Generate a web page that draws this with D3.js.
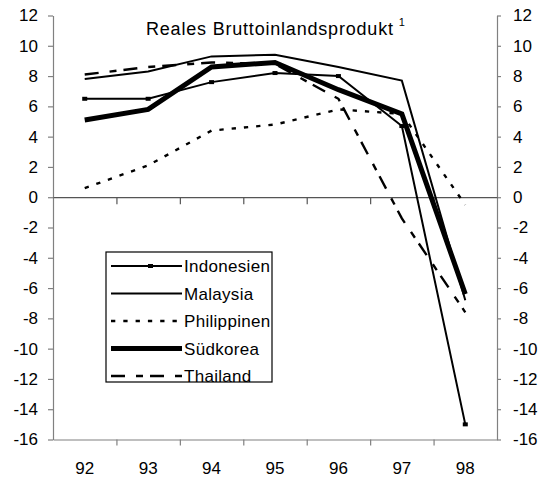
<!DOCTYPE html>
<html>
<head>
<meta charset="utf-8">
<script src="https://cdn.jsdelivr.net/npm/d3@7"></script>
<style>
  body { margin: 0; background: #fff; }
  text { font-family: "Liberation Sans", Arial, sans-serif; fill: #000; }
</style>
</head>
<body>
<svg id="chart"></svg>
<script>
var years = ["92", "93", "94", "95", "96", "97", "98"];
var yTicks = [-16, -14, -12, -10, -8, -6, -4, -2, 0, 2, 4, 6, 8, 10, 12];

var indonesien = [6.5, 6.5, 7.6, 8.2, 8.0, 4.7, -15.0];
var malaysia = [7.8, 8.3, 9.3, 9.4, 8.6, 7.7, -6.8];
var philippinen = [0.6, 2.1, 4.4, 4.8, 5.8, 5.5, -0.5];
var suedkorea = [5.1, 5.8, 8.6, 8.9, 7.1, 5.5, -6.4];
var thailand = [8.1, 8.6, 8.9, 8.8, 6.5, -1.4, -7.6];

var seriesNames = ["Indonesien", "Malaysia", "Philippinen", "Südkorea", "Thailand"];
var seriesValues = [indonesien, malaysia, philippinen, suedkorea, thailand];

// line styles per series
var styles = [
    {width: 2, dash: null, marker: true},
    {width: 2, dash: null, marker: false},
    {width: 2.4, dash: "4.3,8", marker: false},
    {width: 5, dash: null, marker: false},
    {width: 2.4, dash: "14,11,7,7", marker: false}
];

var width = 544;
var height = 480;
var margin = {top: 15.5, left: 53, right: 47, bottom: 40.5};

var svg = d3.select("#chart")
    .attr("width", width)
    .attr("height", height);

var x = d3.scaleBand()
    .domain(years)
    .range([margin.left, width - margin.right]);

// boundaries between the years, for the tick marks
var xEdge = d3.scaleLinear()
    .domain([0, years.length])
    .range([margin.left, width - margin.right]);

var y = d3.scaleLinear()
    .domain([-16, 12])
    .range([height - margin.bottom, margin.top]);

var axisColor = "#808080";
var plainNumber = function(d) { return String(d); };

var yLeft = svg.append("g")
    .attr("transform", `translate(${margin.left},0)`)
    .call(d3.axisLeft(y).tickValues(yTicks).tickFormat(plainNumber)
        .tickSize(5).tickSizeOuter(0).tickPadding(10));

var yRight = svg.append("g")
    .attr("transform", `translate(${width - margin.right},0)`)
    .call(d3.axisRight(y).tickValues(yTicks).tickFormat(plainNumber)
        .tickSize(4).tickSizeOuter(0).tickPadding(12));

var zeroLine = svg.append("g")
    .attr("transform", `translate(0,${y(0)})`)
    .call(d3.axisBottom(xEdge).tickValues(d3.range(1, years.length)).tickSize(7).tickSizeOuter(0).tickFormat(""));

var bottomLine = svg.append("g")
    .attr("transform", `translate(0,${y(-16)})`)
    .call(d3.axisBottom(xEdge).tickValues(d3.range(1, years.length)).tickSize(6).tickSizeOuter(0).tickFormat(""));

var xLabels = svg.append("g")
    .attr("transform", `translate(0,${y(-16)})`)
    .call(d3.axisBottom(x).tickSize(0).tickPadding(22));
xLabels.select(".domain").remove();

[yLeft, yRight, zeroLine, bottomLine].forEach(function(g) {
    g.selectAll("path, line").attr("stroke", axisColor).attr("stroke-width", 1.2);
});
zeroLine.selectAll("path, line").attr("stroke", "#555");

svg.selectAll(".tick text")
    .attr("font-size", 17)
    .attr("fill", "#000")
    .attr("font-family", "Liberation Sans, Arial, sans-serif");

// title
var title = svg.append("text")
    .attr("x", 146)
    .attr("y", 35)
    .attr("font-size", 18)
    .attr("letter-spacing", 0.8)
    .text("Reales Bruttoinlandsprodukt");
title.append("tspan")
    .attr("dx", 5)
    .attr("dy", -9)
    .attr("font-size", 11)
    .text("1");

var line = d3.line()
    .x(function(d, i) { return x(years[i]) + x.bandwidth() / 2; })
    .y(function(d) { return y(d); });

seriesValues.forEach(function(values, k) {
    var s = styles[k];
    svg.append("path")
        .datum(values)
        .attr("fill", "none")
        .attr("stroke", "#000")
        .attr("stroke-width", s.width)
        .attr("stroke-dasharray", s.dash)
        .attr("stroke-linejoin", "miter")
        .attr("d", line);
    if (s.marker) {
        svg.selectAll(".marker" + k)
            .data(values)
            .enter().append("rect")
            .attr("class", "marker" + k)
            .attr("x", function(d, i) { return x(years[i]) + x.bandwidth() / 2 - 2.5; })
            .attr("y", function(d) { return y(d) - 2; })
            .attr("width", 5)
            .attr("height", 4)
            .attr("fill", "#000");
    }
});

// legend
var legend = svg.append("g");
legend.append("rect")
    .attr("x", 106)
    .attr("y", 252)
    .attr("width", 166)
    .attr("height", 130)
    .attr("fill", "#fff")
    .attr("stroke", "#000")
    .attr("stroke-width", 1.2);

var rowY = d3.scalePoint()
    .domain(seriesNames)
    .range([266, 376]);

seriesNames.forEach(function(name, k) {
    var s = styles[k];
    var yy = rowY(name);
    legend.append("line")
        .attr("x1", 111)
        .attr("x2", 182)
        .attr("y1", yy)
        .attr("y2", yy)
        .attr("stroke", "#000")
        .attr("stroke-width", s.width)
        .attr("stroke-dasharray", s.dash);
    if (s.marker) {
        legend.append("rect")
            .attr("x", 148)
            .attr("y", yy - 2)
            .attr("width", 5)
            .attr("height", 4)
            .attr("fill", "#000");
    }
    legend.append("text")
        .attr("x", 184)
        .attr("y", yy)
        .attr("dy", "0.36em")
        .attr("font-size", 17)
        .attr("letter-spacing", 0.3)
        .text(name);
});
</script>
</body>
</html>
